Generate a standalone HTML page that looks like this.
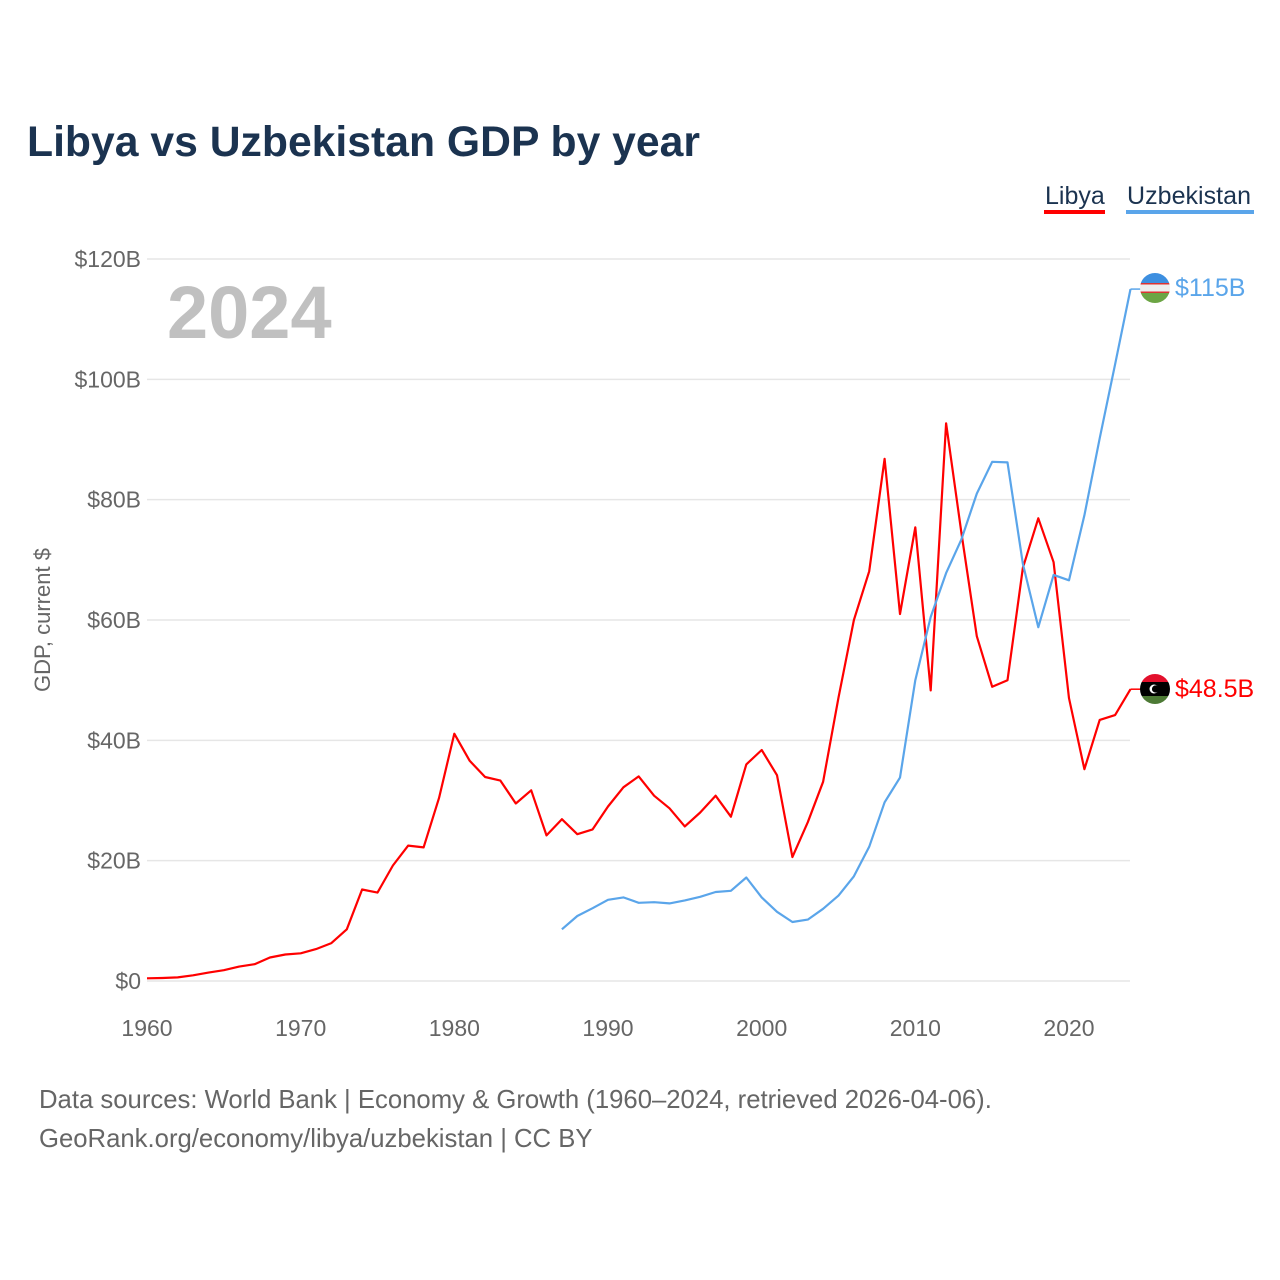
<!DOCTYPE html>
<html><head><meta charset="utf-8">
<style>
body{margin:0;background:#fff;font-family:"Liberation Sans",sans-serif;}
#wrap{position:relative;width:1280px;height:1280px;overflow:hidden;}
</style></head>
<body>
<div id="wrap">
<svg id="chart" width="1280" height="1280" viewBox="0 0 1280 1280">
  <text x="27" y="156" font-size="42.7" font-weight="bold" fill="#1b3350">Libya vs Uzbekistan GDP by year</text>
  <g>
    <g>
      <text x="1045" y="204" font-size="25" fill="#1b3350">Libya</text>
      <rect x="1044" y="210" width="61" height="4" fill="#ff0000"/>
    </g>
    <g>
      <text x="1127" y="204" font-size="25" fill="#1b3350" textLength="124">Uzbekistan</text>
      <rect x="1126" y="210" width="128" height="4" fill="#5aa5ea"/>
    </g>
  </g>
  <text x="167" y="338" font-size="74" font-weight="bold" fill="#c0c0c0">2024</text>
  <g id="grid"></g>
  <g id="yticks"></g>
  <g id="xticks"></g>
  <text transform="translate(50,620) rotate(-90)" text-anchor="middle" font-size="22" fill="#666">GDP, current $</text>
  <g id="series"></g>
  <g>
    <clipPath id="cu"><circle cx="1155" cy="288" r="15"/></clipPath>
    <g clip-path="url(#cu)">
      <rect x="1140" y="273" width="30" height="10" fill="#3d8fe0"/>
      <rect x="1140" y="283" width="30" height="10" fill="#eee"/>
      <rect x="1140" y="283" width="30" height="1.5" fill="#d33"/>
      <rect x="1140" y="291.5" width="30" height="1.5" fill="#d33"/>
      <rect x="1140" y="293" width="30" height="10" fill="#6ca544"/>
    </g>
  </g>
  <g>
    <clipPath id="cl"><circle cx="1155" cy="689" r="15"/></clipPath>
    <g clip-path="url(#cl)">
      <rect x="1140" y="674" width="30" height="8" fill="#e3102c"/>
      <rect x="1140" y="682" width="30" height="14" fill="#000"/>
      <rect x="1140" y="696" width="30" height="8" fill="#4d7a35"/>
      <circle cx="1154" cy="689" r="4.5" fill="#fff"/>
      <circle cx="1155.5" cy="689" r="3.6" fill="#000"/>
    </g>
  </g>
  <text x="1175" y="296" font-size="25" fill="#5aa5ea">$115B</text>
  <text x="1175" y="697" font-size="25" fill="#ff0000">$48.5B</text>
  <text x="39" y="1108" font-size="25.7" fill="#666">Data sources: World Bank | Economy &amp; Growth (1960–2024, retrieved 2026-04-06).</text>
  <text x="39" y="1147" font-size="25.7" fill="#666">GeoRank.org/economy/libya/uzbekistan | CC BY</text>
</svg>
</div>
<script>
const libyaYears = [];
for (let y = 1960; y <= 2024; y++) libyaYears.push(y);
const libyaValues = [0.45,0.5,0.6,0.95,1.4,1.8,2.4,2.8,3.9,4.4,4.6,5.3,6.3,8.6,15.2,14.7,19.2,22.5,22.2,30.4,41.1,36.6,33.9,33.3,29.5,31.7,24.2,26.9,24.4,25.2,29.0,32.2,34.0,30.8,28.7,25.7,28.0,30.8,27.3,36.0,38.4,34.2,20.6,26.4,33.1,47.1,60.0,68.1,86.8,61.0,75.4,48.3,92.7,74.5,57.3,48.9,50.0,68.7,76.9,69.6,47.0,35.2,43.4,44.2,48.5];
const uzbYears = [];
for (let y = 1987; y <= 2024; y++) uzbYears.push(y);
const uzbValues = [8.6,10.8,12.1,13.5,13.9,13.0,13.1,12.9,13.4,14.0,14.8,15.0,17.2,13.9,11.5,9.8,10.2,12.0,14.2,17.4,22.3,29.7,33.8,50.0,60.5,67.8,73.4,81.0,86.3,86.2,69.3,58.8,67.5,66.6,77.4,90.2,102.5,115.0];
const yTicks = [0,20,40,60,80,100,120];
const yTickLabels = ["$0","$20B","$40B","$60B","$80B","$100B","$120B"];
const xTicks = [1960,1970,1980,1990,2000,2010,2020];

const NS = "http://www.w3.org/2000/svg";
const xS = yr => 147 + (yr - 1960) * (922 / 60);
const yS = v => 981 - v * (722 / 120);
function mk(tag, attrs, parent) {
  const e = document.createElementNS(NS, tag);
  for (const k in attrs) e.setAttribute(k, attrs[k]);
  parent.appendChild(e);
  return e;
}
const grid = document.getElementById('grid');
const yt = document.getElementById('yticks');
const xt = document.getElementById('xticks');
yTicks.forEach((v, i) => {
  const l = mk('line', {x1:147, x2:1130, y1:yS(v), y2:yS(v), stroke:'#e6e6e6', 'stroke-width':1.5}, grid);
  
  
  const t = mk('text', {x:141, y:yS(v)+8, 'text-anchor':'end', 'font-size':23, fill:'#666'}, yt);
  t.textContent = yTickLabels[i];
  
  
});
xTicks.forEach(yr => {
  const t = mk('text', {x:xS(yr), y:1036, 'text-anchor':'middle', 'font-size':23, fill:'#666'}, xt);
  t.textContent = yr;
  
  
});
const series = document.getElementById('series');
function line(years, vals, color, name) {
  const pts = years.map((y, i) => xS(y).toFixed(1) + ',' + yS(vals[i]).toFixed(1));
  const p = mk('polyline', {points: pts.join(' '), fill:'none', stroke:color, 'stroke-width':2.2, 'stroke-linejoin':'round'}, series);
  
  
  const last = vals[vals.length - 1];
  const c = mk('line', {x1:xS(years[years.length-1]), x2:xS(years[years.length-1])+10, y1:yS(last), y2:yS(last), stroke:color, 'stroke-width':1.5}, series);
  
  
}
line(libyaYears, libyaValues, '#ff0000', 'libya-line');
line(uzbYears, uzbValues, '#5aa5ea', 'uzbekistan-line');
</script>
</body></html>
